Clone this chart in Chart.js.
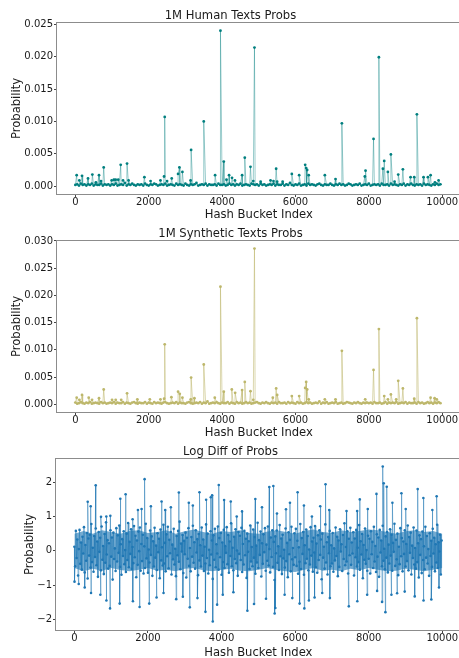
<!DOCTYPE html>
<html lang="en">
<head>
    <meta charset="UTF-8">
    <title>Hash Bucket Probs</title>
    <style>
        body {
            margin: 0;
            width: 459px;
            height: 658px;
            overflow: hidden;
            background: #fff;
            position: relative;
        }
        .panel {
            position: absolute;
            left: 0;
            width: 462px;
            height: 222px;
        }
    </style>
</head>
<body>
    <div class="panel" style="top:0px"><canvas id="humanChart" width="462" height="222"></canvas></div>
    <div class="panel" style="top:218px"><canvas id="synthChart" width="462" height="222"></canvas></div>
    <div class="panel" style="top:436px"><canvas id="diffChart" width="462" height="222"></canvas></div>

    <script src="https://cdn.jsdelivr.net/npm/chart.js"></script>
    <script>
        // x axis ticks (hash bucket index)
        const xTicks = [0, 2000, 4000, 6000, 8000, 10000];
        const humanTicks = [0, 0.005, 0.01, 0.015, 0.02, 0.025];
        const synthTicks = [0, 0.005, 0.01, 0.015, 0.02, 0.025, 0.03];
        const diffTicks = [-2, -1, 0, 1, 2];

        // baseline samples, one every baseStep buckets
        const baseStep = 50;
        const humanBase = [
            .0002,.0003,.0001,.0004,.0002,.0003,.0001,.0003,.0002,.0004,.0001,.0003,.0002,.0002,.0004,.0001,.0003,.0002,.0003,.0001,
            .0003,.0002,.0004,.0001,.0002,.0003,.0002,.0005,.0001,.0003,.0002,.0004,.0002,.0001,.0003,.0002,.0003,.0001,.0004,.0002,
            .0001,.0003,.0002,.0004,.0003,.0001,.0002,.0003,.0002,.0004,.0001,.0002,.0003,.0002,.0001,.0004,.0002,.0003,.0002,.0001,
            .0004,.0002,.0001,.0003,.0002,.0003,.0005,.0001,.0002,.0003,.0002,.0004,.0001,.0003,.0002,.0002,.0003,.0001,.0004,.0002,
            .0002,.0003,.0001,.0002,.0004,.0002,.0003,.0001,.0003,.0002,.0004,.0001,.0002,.0003,.0002,.0001,.0004,.0003,.0002,.0003,
            .0001,.0004,.0002,.0003,.0001,.0002,.0003,.0002,.0004,.0001,.0003,.0002,.0002,.0004,.0001,.0003,.0002,.0005,.0002,.0001,
            .0003,.0002,.0004,.0001,.0002,.0003,.0001,.0004,.0002,.0003,.0002,.0001,.0003,.0004,.0002,.0001,.0003,.0002,.0002,.0004,
            .0002,.0001,.0003,.0002,.0004,.0002,.0003,.0001,.0002,.0004,.0003,.0001,.0002,.0003,.0002,.0004,.0001,.0002,.0003,.0002,
            .0004,.0001,.0002,.0003,.0002,.0003,.0001,.0004,.0002,.0002,.0003,.0001,.0004,.0002,.0003,.0002,.0001,.0003,.0002,.0004,
            .0001,.0003,.0002,.0004,.0002,.0001,.0003,.0002,.0003,.0001,.0004,.0002,.0003,.0002,.0001,.0003,.0002,.0004,.0002,.0003
        ];
        const synthBase = [
            .0003,.0001,.0002,.0004,.0002,.0001,.0003,.0002,.0004,.0001,.0002,.0003,.0002,.0001,.0004,.0002,.0003,.0001,.0002,.0003,
            .0002,.0004,.0001,.0003,.0002,.0002,.0004,.0001,.0003,.0002,.0001,.0003,.0004,.0002,.0001,.0003,.0002,.0002,.0004,.0001,
            .0003,.0002,.0001,.0004,.0002,.0003,.0002,.0001,.0003,.0004,.0002,.0001,.0002,.0003,.0002,.0004,.0001,.0003,.0002,.0002,
            .0001,.0003,.0004,.0002,.0001,.0002,.0003,.0002,.0004,.0001,.0003,.0002,.0005,.0001,.0002,.0003,.0002,.0004,.0002,.0001,
            .0003,.0002,.0002,.0004,.0001,.0003,.0002,.0001,.0004,.0002,.0003,.0001,.0002,.0004,.0002,.0003,.0001,.0002,.0003,.0004,
            .0002,.0001,.0003,.0002,.0004,.0002,.0001,.0003,.0002,.0003,.0001,.0004,.0002,.0002,.0003,.0001,.0004,.0002,.0003,.0002,
            .0001,.0004,.0002,.0003,.0001,.0002,.0004,.0002,.0003,.0001,.0002,.0003,.0002,.0005,.0001,.0003,.0002,.0004,.0001,.0002,
            .0003,.0002,.0004,.0001,.0002,.0003,.0001,.0002,.0004,.0003,.0002,.0001,.0003,.0002,.0004,.0002,.0001,.0003,.0002,.0003,
            .0002,.0003,.0001,.0004,.0002,.0002,.0003,.0001,.0002,.0004,.0001,.0003,.0002,.0003,.0002,.0004,.0001,.0002,.0003,.0002,
            .0004,.0001,.0003,.0002,.0002,.0003,.0001,.0004,.0002,.0003,.0001,.0002,.0004,.0002,.0003,.0001,.0003,.0002,.0004,.0002
        ];

        // peaks: bucket index and probability
        const humanPeakIdx = [36,109,182,345,464,560,645,700,773,990,1050,1100,1170,1236,1300,1409,1450,1882,2050,2320,2418,2436,2500,2627,2800,2836,2918,3140,3155,3500,3809,3955,4045,4120,4190,4270,4350,4545,4618,4773,4850,4882,5050,5320,5400,5473,5500,5650,5900,6100,6264,6291,6318,6360,6800,7091,7264,7890,7909,8127,8273,8382,8418,8518,8600,8700,8800,8927,9136,9236,9309,9490,9609,9682,9800,9900];
        const humanPeakVal = [.0017,.0009,.0016,.0012,.0018,.0006,.0017,.0008,.0029,.0009,.001,.001,.001,.0033,.0009,.0035,.0009,.0014,.0008,.0009,.0015,.0107,.0008,.0012,.0019,.0029,.0022,.0009,.0056,.01,.0017,.024,.0038,.001,.0017,.0013,.0009,.0017,.0044,.003,.0008,.0214,.0007,.0009,.0008,.0027,.0007,.0007,.0019,.0017,.0033,.0028,.0025,.0017,.0017,.0011,.0097,.0015,.0024,.0073,.0199,.0027,.0039,.0022,.0049,.0007,.0018,.0026,.0014,.0014,.0111,.0014,.0014,.0017,.0006,.0009];

        const synthPeakIdx = [36,109,182,364,455,645,773,1000,1100,1250,1409,1690,2030,2320,2420,2436,2618,2800,2845,2918,3145,3155,3245,3500,3800,3955,4045,4264,4355,4545,4618,4773,4850,4882,5382,5473,5500,5900,6100,6264,6291,6318,6360,6800,7091,7264,7900,8127,8273,8418,8518,8600,8745,8800,8927,9236,9309,9682,9791,9850];
        const synthPeakVal = [.0012,.0008,.0017,.0012,.0008,.0011,.0027,.0008,.0008,.0008,.002,.0009,.0009,.0009,.001,.011,.0013,.0023,.0019,.0012,.0009,.0049,.0011,.0073,.0012,.0216,.0023,.0027,.0021,.0026,.0041,.0024,.0008,.0286,.0012,.0029,.0017,.0015,.0015,.003,.0041,.0027,.0009,.0009,.0009,.0098,.0009,.0063,.0138,.0015,.0009,.0018,.0009,.0043,.0029,.001,.0158,.0012,.0011,.0009];

        // log diff: band sampled every diffStep buckets, plus the outliers
        const diffStep = 20;
        const diffBase = [
            0.12,-0.45,0.58,-0.21,0.33,-0.72,0.05,0.61,-0.38,0.24,-0.55,0.41,-0.08,0.69,-0.63,0.17,-0.29,0.52,-0.81,0.36,-0.14,0.47,-0.49,0.78,-0.33,
            0.09,-0.61,0.43,-0.18,0.65,-0.42,0.27,-0.76,0.55,-0.03,0.38,-0.57,0.71,-0.26,0.14,-0.68,0.49,-0.35,0.83,-0.11,0.31,-0.52,0.22,-0.44,0.6,
            -0.17,0.39,-0.84,0.53,-0.24,0.07,-0.59,0.66,-0.31,0.45,-0.06,0.74,-0.47,0.19,-0.7,0.34,-0.15,0.57,-0.39,0.02,-0.62,0.5,-0.27,0.81,-0.48,
            0.26,-0.09,0.63,-0.53,0.11,-0.36,0.72,-0.19,0.44,-0.77,0.3,-0.41,0.56,-0.01,0.68,-0.58,0.2,-0.3,0.47,-0.66,0.13,-0.5,0.79,-0.22,0.37,
            -0.64,0.04,-0.34,0.59,-0.12,0.42,-0.73,0.28,-0.46,0.67,-0.2,0.15,-0.56,0.51,-0.04,0.35,-0.8,0.62,-0.28,0.1,-0.43,0.76,-0.37,0.23,-0.6,
            0.48,-0.16,0.7,-0.51,0.32,-0.07,0.55,-0.69,0.18,-0.25,0.64,-0.4,0.06,-0.74,0.43,-0.13,0.58,-0.32,0.85,-0.54,0.21,-0.02,0.46,-0.65,0.29,
            -0.1,0.53,-0.78,0.38,-0.23,0.66,-0.44,0.08,-0.6,0.4,-0.17,0.73,-0.35,0.25,-0.52,0.6,-0.05,0.34,-0.71,0.49,-0.28,0.16,-0.46,0.68,-0.14,
            0.33,-0.59,0.12,-0.37,0.77,-0.21,0.5,-0.66,0.03,-0.42,0.57,-0.11,0.3,-0.82,0.45,-0.26,0.64,-0.48,0.19,-0.08,0.71,-0.55,0.37,-0.19,0.52,
            -0.7,0.24,-0.33,0.61,-0.5,0.14,-0.06,0.69,-0.39,0.46,-0.64,0.27,-0.15,0.8,-0.45,0.09,-0.57,0.41,-0.24,0.63,-0.36,0.01,-0.73,0.55,-0.09,
            0.44,-0.27,0.67,-0.62,0.2,-0.4,0.58,-0.13,0.35,-0.79,0.5,-0.03,0.28,-0.53,0.74,-0.31,0.11,-0.45,0.62,-0.2,0.4,-0.67,0.15,-0.34,0.82,
            -0.5,0.31,-0.12,0.56,-0.75,0.22,-0.38,0.48,-0.04,0.66,-0.58,0.18,-0.29,0.71,-0.43,0.05,-0.63,0.39,-0.18,0.6,-0.47,0.26,-0.85,0.42,-0.07,
            0.59,-0.35,0.13,-0.56,0.75,-0.16,0.36,-0.68,0.47,-0.22,0.03,-0.49,0.65,-0.3,0.23,-0.77,0.54,-0.1,0.32,-0.6,0.7,-0.25,0.08,-0.41,0.51,
            -0.19,0.64,-0.44,0.29,-0.67,0.1,-0.32,0.78,-0.53,0.37,-0.09,0.55,-0.7,0.16,-0.36,0.62,-0.23,0.43,-0.57,0.04,-0.4,0.69,-0.14,0.27,-0.61,
            0.38,-0.05,0.72,-0.48,0.21,-0.64,0.45,-0.27,0.6,-0.12,0.33,-0.83,0.5,-0.2,0.12,-0.52,0.77,-0.34,0.25,-0.69,0.4,-0.07,0.58,-0.45,0.16,
            -0.37,0.52,-0.61,0.07,-0.28,0.68,-0.15,0.41,-0.74,0.3,-0.47,0.63,-0.02,0.19,-0.59,0.46,-0.24,0.8,-0.42,0.11,-0.31,0.57,-0.66,0.35,-0.13,
            0.67,-0.41,0.24,-0.08,0.54,-0.72,0.36,-0.19,0.61,-0.46,0.09,-0.33,0.75,-0.55,0.28,-0.11,0.49,-0.8,0.17,-0.26,0.65,-0.38,0.02,-0.58,0.44,
            -0.23,0.35,-0.66,0.57,-0.1,0.26,-0.5,0.7,-0.31,0.14,-0.62,0.48,-0.17,0.39,-0.76,0.61,-0.05,0.3,-0.45,0.73,-0.29,0.06,-0.54,0.42,-0.2,
            0.55,-0.63,0.18,-0.37,0.63,-0.14,0.47,-0.58,0.23,-0.03,0.79,-0.44,0.32,-0.25,0.5,-0.71,0.12,-0.39,0.66,-0.16,0.37,-0.6,0.27,-0.09,0.6,
            -0.46,0.2,-0.3,0.74,-0.57,0.4,-0.06,0.53,-0.69,0.15,-0.21,0.68,-0.4,0.08,-0.52,0.59,-0.33,0.22,-0.78,0.45,-0.12,0.34,-0.65,0.56,-0.27,
            0.13,-0.54,0.7,-0.2,0.43,-0.37,0.05,-0.73,0.51,-0.15,0.29,-0.47,0.64,-0.08,0.38,-0.6,0.19,-0.34,0.76,-0.5,0.25,-0.02,0.47,-0.69,0.3
        ];
        const diffUpIdx = [362,443,579,723,868,977,1248,1392,1582,1727,1826,1908,2079,2369,2468,2622,2839,3110,3219,3400,3580,3707,3743,3924,4069,4250,4412,4557,4918,5099,5298,5407,5506,5751,5859,6067,6239,6456,6682,6826,6926,7396,7685,7757,7974,8210,8381,8408,8490,8644,8888,9006,9331,9485,9729,9846];
        const diffUpVal = [1.43,1.3,1.91,0.99,1.0,1.02,1.52,1.65,0.92,1.19,1.22,2.09,1.3,1.44,1.19,1.27,1.7,1.4,1.32,1.71,1.49,1.56,1.62,1.92,1.48,1.44,1.0,1.15,1.51,1.27,1.86,1.89,1.09,1.21,1.4,1.71,1.32,1.0,1.3,1.94,1.19,1.16,1.16,1.5,1.22,1.66,2.46,1.97,1.87,1.4,1.68,1.22,1.8,1.54,1.19,1.59];
        const diffDownIdx = [3,118,280,452,705,870,969,1230,1591,1772,2034,2233,2423,2767,2948,3137,3345,3562,3761,3879,4033,4322,4702,4882,5208,5443,5461,5714,5922,6121,6250,6374,6528,6736,6944,7459,7690,7957,8228,8363,8454,8617,8771,8978,9250,9490,9702,9910];
        const diffDownVal = [-0.9,-0.97,-1.07,-1.23,-1.28,-1.45,-1.68,-1.54,-1.47,-1.64,-1.54,-1.36,-1.23,-1.41,-1.34,-1.65,-1.38,-1.78,-2.06,-1.57,-1.28,-1.21,-1.75,-1.55,-1.4,-1.83,-1.67,-1.28,-1.38,-1.54,-1.68,-1.45,-1.36,-1.23,-1.38,-1.62,-1.47,-1.28,-1.17,-1.49,-1.79,-1.28,-1.24,-1.19,-1.33,-1.45,-1.42,-1.07];

        // edges of the solid core where the 10k points overlap, every coreStep buckets
        const coreStep = 250;
        const diffCoreHi = [0.5,0.58,0.5,0.6,0.55,0.5,0.58,0.6,0.52,0.55,0.6,0.5,0.57,0.62,0.55,0.5,0.58,0.55,0.6,0.52,0.5,0.56,0.6,0.55,0.5,0.58,0.62,0.55,0.52,0.6,0.55,0.58,0.62,0.6,0.55,0.5,0.57,0.6,0.55,0.58,0.5];
        const diffCoreLo = [-0.5,-0.6,-0.52,-0.58,-0.5,-0.56,-0.6,-0.55,-0.5,-0.58,-0.55,-0.6,-0.52,-0.5,-0.57,-0.6,-0.55,-0.52,-0.58,-0.6,-0.55,-0.5,-0.56,-0.6,-0.62,-0.55,-0.5,-0.58,-0.55,-0.6,-0.52,-0.57,-0.5,-0.55,-0.6,-0.58,-0.52,-0.55,-0.6,-0.55,-0.5];

        const FONT = 'DejaVu Sans';

        // merge the sampled baseline with the extra points, ordered by bucket
        function buildPoints(base, step, idxLists, valLists) {
            const pts = base.map((v, i) => ({ x: i * step, y: v }));
            idxLists.forEach((idx, k) => {
                idx.forEach((x, j) => pts.push({ x: x, y: valLists[k][j] }));
            });
            pts.sort((a, b) => a.x - b.x);
            return pts;
        }

        // matplotlib-like box around the axes
        const framePlugin = {
            id: 'frame',
            afterDraw(chart) {
                const a = chart.chartArea;
                const ctx = chart.ctx;
                ctx.save();
                ctx.strokeStyle = '#8c8c8c';
                ctx.lineWidth = 1;
                ctx.strokeRect(Math.round(a.left) - 0.5, Math.round(a.top) - 0.5,
                    Math.round(a.right - a.left) + 1, Math.round(a.bottom - a.top) + 1);
                ctx.restore();
            }
        };

        function makeChart(id, cfg) {
            const ctx = document.getElementById(id).getContext('2d');
            const datasets = [{
                data: cfg.points,
                borderColor: cfg.lineColor,
                borderWidth: 1,
                pointRadius: cfg.pointRadius,
                pointBorderWidth: 0,
                pointBackgroundColor: cfg.pointColor,
                pointHoverRadius: 0,
                tension: 0,
                fill: false
            }];
            // solid core band behind the series
            if (cfg.coreHi) {
                datasets.push({
                    data: cfg.coreHi,
                    borderWidth: 0,
                    borderColor: 'rgba(0,0,0,0)',
                    backgroundColor: cfg.coreFill,
                    pointRadius: 0,
                    tension: 0,
                    fill: '+1'
                });
                datasets.push({
                    data: cfg.coreLo,
                    borderWidth: 0,
                    borderColor: 'rgba(0,0,0,0)',
                    pointRadius: 0,
                    tension: 0,
                    fill: false
                });
            }
            return new Chart(ctx, {
                type: 'line',
                data: { datasets: datasets },
                options: {
                    responsive: false,
                    animation: false,
                    parsing: false,
                    layout: { padding: { left: 0, right: 1, top: 0, bottom: 0 } },
                    plugins: {
                        legend: { display: false },
                        tooltip: { enabled: false },
                        title: {
                            display: true,
                            text: cfg.title,
                            color: '#1a1a1a',
                            font: { family: FONT, size: 11.6, weight: 'normal' },
                            padding: { top: 9, bottom: 0 }
                        }
                    },
                    scales: {
                        x: {
                            type: 'linear',
                            min: -500,
                            max: 10500,
                            afterBuildTicks: s => { s.ticks = xTicks.map(v => ({ value: v })); },
                            afterFit: s => { s.height = 28; },
                            grid: { drawOnChartArea: false, drawTicks: true, tickLength: 3, color: '#444' },
                            border: { display: false },
                            ticks: {
                                padding: 0,
                                maxRotation: 0,
                                color: '#1a1a1a',
                                font: { family: FONT, size: 10, lineHeight: 1 },
                                callback: v => String(v)
                            },
                            title: {
                                display: true,
                                text: 'Hash Bucket Index',
                                color: '#1a1a1a',
                                font: { family: FONT, size: 11.6 },
                                padding: { top: 0, bottom: cfg.xTitlePad }
                            }
                        },
                        y: {
                            type: 'linear',
                            min: cfg.yMin,
                            max: cfg.yMax,
                            afterBuildTicks: s => { s.ticks = cfg.yTicks.map(v => ({ value: v })); },
                            afterFit: s => { s.width = cfg.yWidth; },
                            grid: { drawOnChartArea: false, drawTicks: true, tickLength: 3, color: '#444' },
                            border: { display: false },
                            ticks: {
                                padding: 1,
                                color: '#1a1a1a',
                                font: { family: FONT, size: 10 },
                                callback: cfg.yFormat
                            },
                            title: {
                                display: true,
                                text: 'Probability',
                                color: '#1a1a1a',
                                font: { family: FONT, size: 11.6 },
                                padding: { top: cfg.yTitlePad, bottom: 0 }
                            }
                        }
                    }
                },
                plugins: [framePlugin]
            });
        }

        const probFormat = v => v.toFixed(3);

        makeChart('humanChart', {
            title: '1M Human Texts Probs',
            points: buildPoints(humanBase, baseStep, [humanPeakIdx], [humanPeakVal]),
            lineColor: 'rgba(0, 128, 128, 0.4)',
            pointColor: '#007f7f',
            pointRadius: 1.4,
            yMin: -0.0012, yMax: 0.0252,
            yTicks: humanTicks,
            yFormat: probFormat,
            yWidth: 57,
            yTitlePad: 10,
            xTitlePad: 0
        });

        makeChart('synthChart', {
            title: '1M Synthetic Texts Probs',
            points: buildPoints(synthBase, baseStep, [synthPeakIdx], [synthPeakVal]),
            lineColor: 'rgba(189, 183, 107, 0.55)',
            pointColor: '#bdb76b',
            pointRadius: 1.4,
            yMin: -0.00143, yMax: 0.030,
            yTicks: synthTicks,
            yFormat: probFormat,
            yWidth: 57,
            yTitlePad: 10,
            xTitlePad: 0
        });

        makeChart('diffChart', {
            title: 'Log Diff of Probs',
            points: buildPoints(diffBase, diffStep, [diffUpIdx, diffDownIdx], [diffUpVal, diffDownVal]),
            coreHi: buildPoints(diffCoreHi, coreStep, [], []),
            coreLo: buildPoints(diffCoreLo, coreStep, [], []),
            coreFill: 'rgba(31, 119, 180, 0.62)',
            lineColor: 'rgba(31, 119, 180, 0.5)',
            pointColor: '#1f77b4',
            pointRadius: 1.3,
            yMin: -2.31, yMax: 2.68,
            yTicks: diffTicks,
            yFormat: v => (v < 0 ? '\u2212' + Math.abs(v) : String(v)),
            yWidth: 56,
            yTitlePad: 23,
            xTitlePad: -2
        });
    </script>
</body>
</html>
